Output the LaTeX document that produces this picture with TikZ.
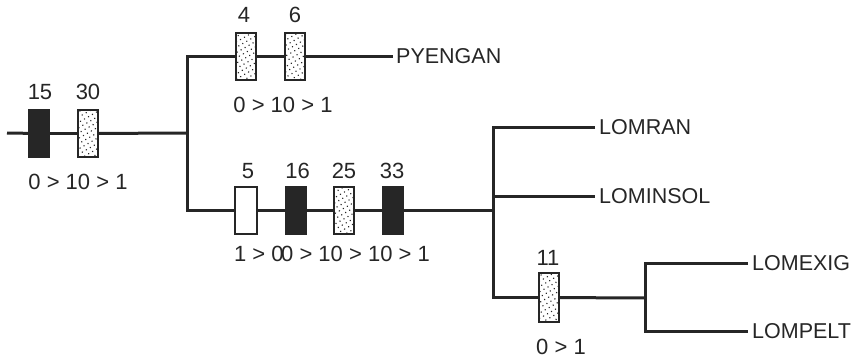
\documentclass[tikz,border=0pt]{standalone}
\usepackage{fontspec}
\setmainfont{Liberation Sans}
\usetikzlibrary{patterns.meta}
\tikzdeclarepattern{
  name=sparsedots,
  type=uncolored,
  bounding box={(-1.5pt,-1.5pt) and (1.5pt,1.5pt)},
  tile size={(4.6pt,4.6pt)},
  tile transformation={rotate=30},
  code={\fill (0pt,0pt) circle [radius=0.8pt];}
}
\begin{document}
\begin{tikzpicture}[x=1pt,y=-1pt,
  branch/.style={line width=3pt,line join=miter,draw=black!85},
  boxbase/.style={draw=black!85,line width=2pt,minimum width=20pt,minimum height=47pt,inner sep=0pt},
  solidbox/.style={boxbase,fill=black!85},
  dotbox/.style={boxbase,fill=white,postaction={pattern={sparsedots},pattern color=black!85}},
  openbox/.style={boxbase,fill=white},
  num/.style={font=\fontsize{22}{24}\selectfont,inner sep=0pt,text=black!85},
  taxon/.style={font=\fontsize{21.5}{24}\selectfont,inner sep=0pt,anchor=west,text=black!85}]
\useasboundingbox (0,0) rectangle (865,359);
% coordinates
\coordinate (root) at (7,133);
\coordinate (j1) at (187,133);
\coordinate (j2) at (493,210);
\coordinate (j3) at (645,298);
% boxes
\node[solidbox] (b15) at (39,133.5) {};
\node[dotbox] (b30) at (88,133.5) {};
\node[dotbox] (b4) at (245.5,56) {};
\node[dotbox] (b6) at (295,56) {};
\node[openbox,minimum width=22pt] (b5) at (246,210) {};
\node[solidbox] (b16) at (295.5,210) {};
\node[dotbox] (b25) at (344,210) {};
\node[solidbox] (b33) at (393,210) {};
\node[dotbox,minimum height=49pt] (b11) at (548.5,297.5) {};
% taxa
\node[taxon] (pyengan) at (396,56) {PYENGAN};
\node[taxon] (lomran) at (599,127) {LOMRAN};
\node[taxon] (lominsol) at (599,196) {LOMINSOL};
\node[taxon] (lomexig) at (752,263) {LOMEXIG};
\node[taxon] (lompelt) at (752,331) {LOMPELT};
\coordinate (c2) at (493,196);
% connectors
\draw[branch] (root) -- (b15);
\draw[branch] (b15) -- (b30);
\draw[branch] (b30) -- (j1);
\draw[branch] (b4.west) -| (j1) |- (b5.west);
\draw[branch] (b4) -- (b6);
\draw[branch] (b6) -- ([xshift=-3pt]pyengan.west);
\draw[branch] (b5) -- (b16);
\draw[branch] (b16) -- (b25);
\draw[branch] (b25) -- (b33);
\draw[branch] (b33) -- (j2);
\draw[branch] ([xshift=-4pt]lomran.west) -| (j2) |- (b11.west);
\draw[branch] (c2) -- ([xshift=-4pt]lominsol.west);
\draw[branch] (b11) -- (j3);
\draw[branch] ([xshift=-4pt]lomexig.west) -| (j3) |- ([xshift=-4pt]lompelt.west);
% labels
\node[num] (l15) at (40,92) {15};
\node[num] (l30) at (88,92) {30};
\node[num] (s1) at (78,182) {0 > 10 > 1};
\node[num] (l4) at (244,15) {4};
\node[num] (l6) at (295,15) {6};
\node[num] (s2) at (283,105) {0 > 10 > 1};
\node[num] (l5) at (248,171) {5};
\node[num] (l16) at (297.5,171) {16};
\node[num] (l25) at (344,171) {25};
\node[num] (l33) at (392,171) {33};
\node[num] (s3) at (332,254) {1 > 0\kern-2.5pt0 > 10 > 10 > 1};
\node[num] (l11) at (548,258) {11};
\node[num] (s4) at (561,347) {0 > 1};
\end{tikzpicture}
\end{document}
